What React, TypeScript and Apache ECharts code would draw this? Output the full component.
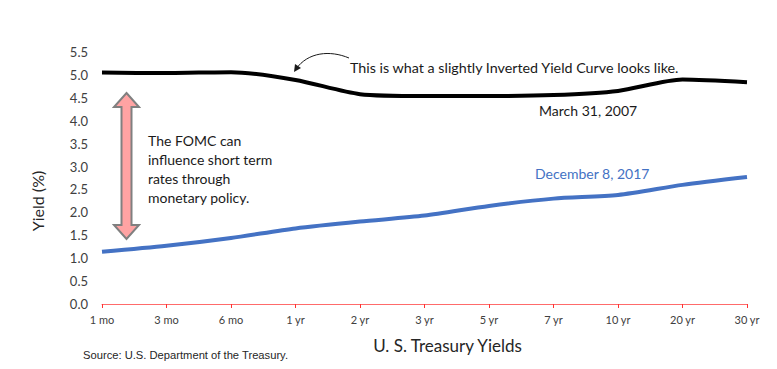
import React, { useEffect, useRef } from "react";
import * as echarts from "echarts";

const categories = ["1 mo", "3 mo", "6 mo", "1 yr", "2 yr", "3 yr", "5 yr", "7 yr", "10 yr", "20 yr", "30 yr"];
const march2007 = [5.05, 5.04, 5.06, 4.89, 4.58, 4.54, 4.54, 4.56, 4.65, 4.9, 4.84];
const december2017 = [1.14, 1.27, 1.44, 1.65, 1.8, 1.93, 2.14, 2.3, 2.38, 2.6, 2.77];

const FONT = "Lato, 'Open Sans', sans-serif";

export default function App() {
  const ref = useRef<HTMLDivElement>(null);
  useEffect(() => {
    if (!ref.current) return;
    const chart = echarts.init(ref.current, null, { renderer: "svg" });
    const cx = 126.5, top = 93, bot = 239, hw = 12.5, sw = 5, hh = 14;
    const arrowPts = [
      [cx, top], [cx + hw, top + hh], [cx + sw, top + hh], [cx + sw, bot - hh], [cx + hw, bot - hh],
      [cx, bot], [cx - hw, bot - hh], [cx - sw, bot - hh], [cx - sw, top + hh], [cx - hw, top + hh],
    ];
    chart.setOption({
      animation: false,
      grid: { left: 102, right: 30, top: 52, bottom: 65 },
      xAxis: {
        type: "category",
        data: categories,
        boundaryGap: false,
        axisLine: { lineStyle: { color: "#FF6B6B", width: 1 } },
        axisTick: { show: true, length: 4, lineStyle: { color: "#FF3333" } },
        axisLabel: { fontFamily: FONT, fontSize: 11, color: "#404040", margin: 10 },
      },
      yAxis: {
        type: "value",
        min: 0,
        max: 5.5,
        interval: 0.5,
        axisLine: { show: false },
        axisTick: { show: false },
        splitLine: { show: false },
        axisLabel: {
          fontFamily: FONT,
          fontSize: 13,
          color: "#404040",
          margin: 14,
          formatter: (v: number) => v.toFixed(1),
        },
      },
      series: [
        {
          name: "March 31, 2007",
          type: "line",
          data: march2007,
          smooth: 0.25,
          symbol: "none",
          lineStyle: { color: "#000000", width: 4 },
        },
        {
          name: "December 8, 2017",
          type: "line",
          data: december2017,
          smooth: 0.25,
          symbol: "none",
          lineStyle: { color: "#4472C4", width: 4 },
        },
      ],
      graphic: [
        {
          type: "polygon",
          shape: { points: arrowPts },
          style: { fill: "#FFA3A3", stroke: "#808080", lineWidth: 2 },
        },
        {
          type: "text",
          x: 37,
          y: 201,
          rotation: Math.PI / 2,
          style: {
            text: "Yield (%)",
            font: `16px ${FONT}`,
            fill: "#262626",
            align: "center",
            verticalAlign: "middle",
          },
        },
        {
          type: "text",
          x: 447.5,
          y: 345,
          style: {
            text: "U. S. Treasury Yields",
            font: `17px ${FONT}`,
            fill: "#262626",
            align: "center",
            verticalAlign: "middle",
          },
        },
        {
          type: "text",
          left: 148,
          top: 131,
          style: {
            text: "The FOMC can\ninfluence short term\nrates through\nmonetary policy.",
            font: `14px ${FONT}`,
            fill: "#1a1a1a",
            lineHeight: 19,
          },
        },
        {
          type: "text",
          left: 350,
          top: 60,
          style: {
            text: "This is what a slightly Inverted Yield Curve looks like.",
            font: `14.3px ${FONT}`,
            fill: "#1a1a1a",
          },
        },
        {
          type: "text",
          left: 539,
          top: 103,
          style: { text: "March 31, 2007", font: `14px ${FONT}`, fill: "#1a1a1a" },
        },
        {
          type: "text",
          left: 535,
          top: 166,
          style: { text: "December 8, 2017", font: `14px ${FONT}`, fill: "#4472C4" },
        },
        {
          type: "bezierCurve",
          shape: { x1: 349, y1: 58, x2: 296, y2: 69, cpx1: 330, cpy1: 50, cpx2: 308, cpy2: 52 },
          style: { stroke: "#1a1a1a", lineWidth: 1, fill: null },
        },
        {
          type: "polygon",
          shape: { points: [[294, 72], [295, 64], [301, 68]] },
          style: { fill: "#1a1a1a" },
        },
        {
          type: "text",
          left: 83,
          top: 349,
          style: {
            text: "Source: U.S. Department of the Treasury.",
            font: "11.2px 'Liberation Sans', Arial, sans-serif",
            fill: "#262626",
          },
        },
      ],
    });
    return () => chart.dispose();
  }, []);
  return <div ref={ref} style={{ width: 777, height: 369, margin: -8 }} />;
}
